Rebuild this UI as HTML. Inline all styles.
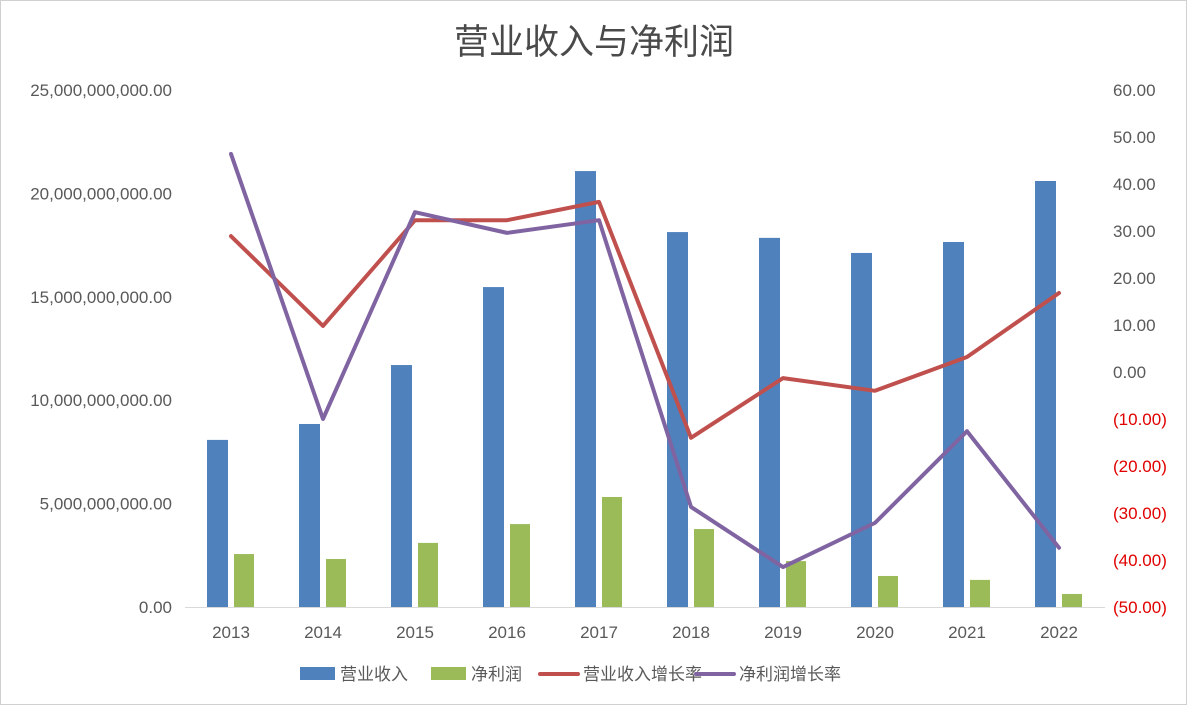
<!DOCTYPE html>
<html><head><meta charset="utf-8"><style>
body{margin:0;background:#fff;}
svg{display:block;font-family:"Liberation Sans","Noto Sans CJK SC",sans-serif;}
</style></head><body>
<svg id="chart" width="1188" height="706">
<rect x="0.5" y="0.5" width="1186" height="704" fill="#fff" stroke="#d0d0d0"/>
<text x="594" y="54" text-anchor="middle" font-size="35" fill="#4a4a4a">营业收入与净利润</text>
<g id="g"></g>
</svg>
<script>
const categories=["2013","2014","2015","2016","2017","2018","2019","2020","2021","2022"];
const revenue=[8.08e9,8.85e9,11.7e9,15.47e9,21.08e9,18.13e9,17.85e9,17.12e9,17.65e9,20.6e9];
const profit=[2.56e9,2.32e9,3.1e9,4.01e9,5.32e9,3.77e9,2.22e9,1.5e9,1.31e9,0.63e9];
const revGrowth=[28.9,9.8,32.3,32.3,36.2,-14,-1.3,-4,3.2,16.8];
const profGrowth=[46.4,-10,34,29.6,32.3,-28.7,-41.5,-32.1,-12.6,-37.4];
const leftTicks=[0,5e9,10e9,15e9,20e9,25e9];
const rightTicks=[-50,-40,-30,-20,-10,0,10,20,30,40,50,60];
const NS="http://www.w3.org/2000/svg";
const g=document.getElementById('g');
const yTop=90,yBot=607,x0=185,step=92;
const yL=v=>yBot-(v/25e9)*(yBot-yTop);
const yR=v=>yBot-((v+50)/110)*(yBot-yTop);
const xC=i=>x0+step*(i+0.5);
function mk(t,a,txt){const e=document.createElementNS(NS,t);for(const k in a)e.setAttribute(k,a[k]);if(txt!=null)e.textContent=txt;g.appendChild(e);return e;}
const fmt=v=>v.toLocaleString('en-US',{minimumFractionDigits:2,maximumFractionDigits:2});
leftTicks.forEach(v=>{const e=mk('text',{x:172,y:yL(v)+6,'text-anchor':'end','font-size':17,fill:'#595959'},fmt(v));

});
rightTicks.forEach(v=>{const e=mk('text',{x:1113,y:yR(v)+6,'font-size':17,fill:v<0?'#e00000':'#595959'},v<0?'('+fmt(-v)+')':fmt(v));

});
const ax=mk('line',{x1:x0,x2:x0+step*10,y1:yBot+0.5,y2:yBot+0.5,stroke:'#d9d9d9'});


categories.forEach((c,i)=>{
const t=mk('text',{x:xC(i),y:638,'text-anchor':'middle','font-size':17,fill:'#595959'},c);


const b=mk('rect',{x:xC(i)-24,y:yL(revenue[i]),width:21,height:yBot-yL(revenue[i]),fill:'#4f81bd'});


const p=mk('rect',{x:xC(i)+3,y:yL(profit[i]),width:20,height:yBot-yL(profit[i]),fill:'#9bbb59'});


});
const l1=mk('polyline',{points:revGrowth.map((v,i)=>xC(i)+','+yR(v)).join(' '),fill:'none',stroke:'#c0504d','stroke-width':4,'stroke-linejoin':'round','stroke-linecap':'round'});


const l2=mk('polyline',{points:profGrowth.map((v,i)=>xC(i)+','+yR(v)).join(' '),fill:'none',stroke:'#8064a2','stroke-width':4,'stroke-linejoin':'round','stroke-linecap':'round'});


const leg=[['rect','#4f81bd',300,'营业收入'],['rect','#9bbb59',431,'净利润'],['line','#c0504d',540,'营业收入增长率'],['line','#8064a2',696,'净利润增长率']];
leg.forEach(([k,c,x,txt])=>{
const s=k==='rect'?mk('rect',{x:x,y:667,width:35,height:13,fill:c}):mk('line',{x1:x,x2:x+38,y1:674,y2:674,stroke:c,'stroke-width':4,'stroke-linecap':'round'});


const t=mk('text',{x:x+(k==='rect'?40:43),y:680,'font-size':17,fill:'#595959'},txt);


});
</script>
</body></html>
